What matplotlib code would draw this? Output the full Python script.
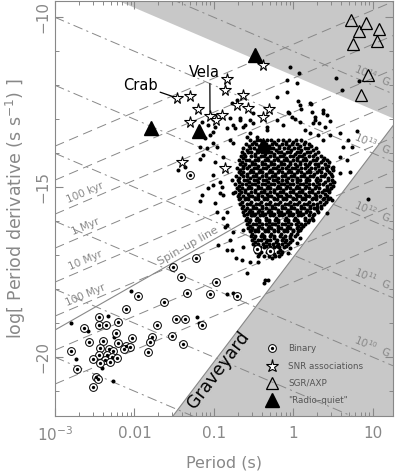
import numpy as np
import matplotlib.pyplot as plt
from matplotlib.lines import Line2D

plt.rcParams['lines.scale_dashes'] = False
plt.rcParams['font.family'] = ['DejaVu Sans']

grey = '#888888'
shade = '#c8c8c8'

# log10 P [s], log10 Pdot [s/s]
# isolated pulsars outside the black core
normal_logp = [
    -0.04, 0.07, 0.54, 0.82, 0.61, -0.08, 0.04, -0.08, -0.21, 0.06,
    0.22, 0.09, 0.23, 0.37, -0.06, -0.02, 0.27, 0.42, 0.32, 0.46,
    0.25, 0.08, 0.02, 0.80, 0.59, 0.69, 0.46, 0.37, 0.21, 0.15,
    0.31, -0.77, -0.71, -1.15, -1.08, -0.99, -1.05, -1.11, -1.01, -1.18,
    -0.96, -0.84, -0.74, -0.67, -0.61, -0.55, -0.80, -0.51, -0.46, -0.33,
    -0.59, -0.80, -1.18, -1.45, -1.37, -1.01, -1.09, -1.14, -0.99, -0.89,
    -0.76, -1.01, -0.77, -0.93, -1.08, -0.93, -0.76, -1.15, 0.62, 0.74,
    0.59, 0.67, 0.50, 0.71, 0.59, 0.50, 0.42, 0.48, 0.30, 0.42,
    0.25, 0.94, 0.04, -0.04, -0.07, 0.08, -0.36, -0.32, -0.89, -0.99,
    -0.96, -0.89, -0.84, -0.76, -0.80, -0.95, -0.77, -0.64, -1.01, -0.90,
    -1.18, -0.84, -0.86, -0.64, -0.84, -0.72, -0.65, -0.55, -0.59, -0.45,
    -0.27, -0.84, -0.37, -2.04, -2.33, -2.80, -2.59, -2.26, -2.74, -2.27,
    -2.41, -1.21, -1.19, -0.07, 0.08, 0.21, -0.13, -0.21, -0.51, -0.64,
    -0.76, -0.55, -0.33, 0.27, 0.37, 0.40, -0.67, -0.76]
normal_logpdot = [
    -11.47, -11.65, -11.79, -11.88, -12.15, -11.85, -11.94, -12.21, -12.35, -12.47,
    -12.56, -12.71, -12.79, -12.74, -12.82, -12.94, -12.94, -12.88, -13.12, -13.06,
    -13.12, -13.09, -13.00, -13.35, -13.41, -13.62, -13.47, -13.62, -13.41, -13.32,
    -13.47, -12.53, -12.44, -13.09, -13.18, -13.24, -13.47, -13.56, -13.71, -13.82,
    -13.82, -13.26, -13.26, -13.03, -13.18, -13.03, -12.97, -12.82, -13.53, -13.24,
    -13.53, -13.62, -14.18, -14.50, -14.41, -13.38, -13.85, -14.06, -14.26, -14.12,
    -13.71, -14.65, -14.79, -14.85, -15.03, -15.18, -15.18, -15.24, -13.82, -13.82,
    -14.12, -14.21, -14.41, -14.56, -14.59, -14.85, -15.09, -15.38, -15.59, -15.76,
    -15.97, -15.35, -16.65, -16.79, -16.94, -16.50, -17.74, -17.74, -15.24, -15.47,
    -15.74, -15.91, -16.12, -16.32, -16.56, -16.71, -16.85, -16.76, -14.94, -15.00,
    -15.41, -15.74, -16.18, -16.26, -16.85, -17.09, -17.15, -17.21, -17.53, -17.21,
    -17.09, -18.15, -17.82, -18.06, -18.79, -19.00, -19.24, -19.41, -20.06, -20.71,
    -20.32, -18.82, -19.00, -12.79, -12.59, -12.53, -13.18, -13.03, -13.12, -13.24,
    -13.18, -13.41, -13.32, -13.03, -12.82, -13.24, -12.97, -18.12]

# the dense core, row by row: (log Pdot, [log P ...])
core_rows = [
    (-13.63, [-0.55, -0.46, -0.42, -0.33, -0.28, -0.19, -0.13, -0.06, 0.03, 0.09]),
    (-13.68, [-0.50, -0.37, -0.24, -0.10, 0.00, 0.15]),
    (-13.73, [-0.60, -0.52, -0.47, -0.39, -0.35, -0.27, -0.22, -0.15, -0.10, -0.02, 0.04, 0.13, 0.19]),
    (-13.80, [-0.56, -0.43, -0.31, -0.18, -0.06, 0.08, 0.22]),
    (-13.86, [-0.63, -0.55, -0.50, -0.42, -0.37, -0.30, -0.26, -0.18, -0.12, -0.07, 0.01, 0.06, 0.14, 0.18, 0.28]),
    (-13.91, [-0.59, -0.46, -0.34, -0.22, -0.03, 0.10, 0.24]),
    (-13.96, [-0.65, -0.57, -0.53, -0.45, -0.40, -0.32, -0.28, -0.20, -0.16, -0.08, -0.04, 0.04, 0.08, 0.17, 0.21, 0.31]),
    (-14.03, [-0.62, -0.49, -0.36, -0.24, -0.12, 0.02, 0.13, 0.27]),
    (-14.10, [-0.66, -0.61, -0.53, -0.49, -0.41, -0.37, -0.29, -0.25, -0.17, -0.13, -0.05, 0.00, 0.07, 0.11, 0.19, 0.24, 0.34]),
    (-14.15, [-0.64, -0.45, -0.33, -0.21, -0.09, 0.04, 0.15, 0.29, 0.38]),
    (-14.20, [-0.69, -0.60, -0.56, -0.48, -0.44, -0.36, -0.32, -0.24, -0.20, -0.12, -0.08, 0.00, 0.04, 0.12, 0.16, 0.24, 0.28, 0.37, 0.42]),
    (-14.27, [-0.65, -0.52, -0.40, -0.28, -0.16, -0.04, 0.08, 0.21, 0.34, 0.45]),
    (-14.33, [-0.67, -0.61, -0.52, -0.48, -0.40, -0.36, -0.28, -0.24, -0.16, -0.12, -0.04, 0.02, 0.08, 0.14, 0.19, 0.27, 0.31, 0.40]),
    (-14.38, [-0.64, -0.56, -0.44, -0.32, -0.20, -0.07, 0.05, 0.17, 0.31, 0.44]),
    (-14.43, [-0.71, -0.63, -0.58, -0.50, -0.46, -0.38, -0.34, -0.26, -0.22, -0.14, -0.10, -0.02, 0.02, 0.10, 0.14, 0.22, 0.27, 0.36, 0.41, 0.48]),
    (-14.50, [-0.67, -0.54, -0.42, -0.30, -0.18, -0.06, 0.06, 0.19, 0.32, 0.42, 0.50]),
    (-14.57, [-0.69, -0.63, -0.55, -0.51, -0.43, -0.39, -0.31, -0.27, -0.19, -0.15, -0.07, -0.03, 0.05, 0.09, 0.17, 0.21, 0.30, 0.35, 0.45]),
    (-14.62, [-0.66, -0.59, -0.47, -0.35, -0.23, -0.11, 0.01, 0.13, 0.26, 0.40, 0.47]),
    (-14.67, [-0.72, -0.64, -0.59, -0.51, -0.47, -0.39, -0.35, -0.27, -0.23, -0.15, -0.11, -0.03, 0.01, 0.09, 0.13, 0.21, 0.25, 0.34, 0.39, 0.49]),
    (-14.73, [-0.68, -0.55, -0.43, -0.31, -0.19, -0.07, 0.05, 0.17, 0.29, 0.44]),
    (-14.80, [-0.70, -0.62, -0.58, -0.50, -0.46, -0.38, -0.34, -0.26, -0.22, -0.14, -0.10, -0.02, 0.04, 0.08, 0.16, 0.20, 0.28, 0.33, 0.43, 0.48]),
    (-14.85, [-0.69, -0.56, -0.44, -0.32, -0.20, -0.08, 0.05, 0.16, 0.29, 0.40, 0.51]),
    (-14.90, [-0.73, -0.65, -0.60, -0.52, -0.48, -0.40, -0.36, -0.28, -0.24, -0.16, -0.12, -0.04, 0.00, 0.08, 0.12, 0.20, 0.24, 0.32, 0.37, 0.46]),
    (-14.97, [-0.68, -0.56, -0.44, -0.32, -0.20, -0.08, 0.04, 0.16, 0.28, 0.42, 0.50]),
    (-15.04, [-0.71, -0.65, -0.57, -0.53, -0.45, -0.41, -0.33, -0.29, -0.21, -0.17, -0.09, -0.05, 0.03, 0.07, 0.15, 0.19, 0.27, 0.32, 0.42, 0.47]),
    (-15.09, [-0.69, -0.61, -0.49, -0.37, -0.25, -0.13, -0.01, 0.11, 0.23, 0.38, 0.45]),
    (-15.14, [-0.73, -0.66, -0.61, -0.53, -0.49, -0.41, -0.37, -0.29, -0.25, -0.17, -0.13, -0.05, -0.01, 0.07, 0.11, 0.19, 0.23, 0.31, 0.36, 0.45]),
    (-15.20, [-0.69, -0.57, -0.45, -0.33, -0.21, -0.09, 0.03, 0.15, 0.27, 0.40]),
    (-15.27, [-0.70, -0.64, -0.56, -0.52, -0.44, -0.40, -0.32, -0.28, -0.20, -0.16, -0.08, -0.04, 0.04, 0.08, 0.16, 0.20, 0.28, 0.33, 0.42]),
    (-15.32, [-0.67, -0.60, -0.48, -0.36, -0.24, -0.12, 0.00, 0.12, 0.24, 0.38, 0.46]),
    (-15.37, [-0.69, -0.61, -0.57, -0.49, -0.45, -0.37, -0.33, -0.25, -0.21, -0.13, -0.09, -0.01, 0.03, 0.11, 0.15, 0.23, 0.28, 0.37, 0.43]),
    (-15.44, [-0.65, -0.53, -0.41, -0.29, -0.17, -0.05, 0.07, 0.19, 0.33, 0.41]),
    (-15.51, [-0.67, -0.59, -0.55, -0.47, -0.43, -0.35, -0.31, -0.23, -0.19, -0.11, -0.07, 0.01, 0.05, 0.13, 0.17, 0.25, 0.30, 0.39]),
    (-15.56, [-0.63, -0.51, -0.39, -0.27, -0.15, -0.03, 0.09, 0.21, 0.35]),
    (-15.61, [-0.65, -0.59, -0.51, -0.47, -0.39, -0.35, -0.27, -0.23, -0.15, -0.11, -0.03, 0.01, 0.09, 0.13, 0.21, 0.26, 0.34]),
    (-15.68, [-0.61, -0.55, -0.43, -0.31, -0.19, -0.07, 0.05, 0.17, 0.30]),
    (-15.75, [-0.63, -0.56, -0.52, -0.44, -0.40, -0.32, -0.28, -0.20, -0.16, -0.08, -0.04, 0.04, 0.08, 0.16, 0.21, 0.31]),
    (-15.80, [-0.59, -0.48, -0.36, -0.24, -0.12, 0.00, 0.12, 0.26]),
    (-15.84, [-0.62, -0.54, -0.50, -0.42, -0.38, -0.30, -0.26, -0.18, -0.14, -0.06, -0.02, 0.06, 0.10, 0.19, 0.25]),
    (-15.91, [-0.58, -0.46, -0.34, -0.22, -0.10, 0.02, 0.15, 0.23]),
    (-15.98, [-0.60, -0.55, -0.47, -0.43, -0.35, -0.31, -0.23, -0.19, -0.11, -0.07, 0.01, 0.05, 0.14, 0.20]),
    (-16.03, [-0.56, -0.43, -0.31, -0.19, -0.07, 0.06, 0.18]),
    (-16.08, [-0.58, -0.51, -0.47, -0.39, -0.35, -0.27, -0.23, -0.15, -0.11, -0.03, 0.03, 0.09, 0.15]),
    (-16.15, [-0.55, -0.43, -0.31, -0.19, -0.07, 0.06, 0.12]),
    (-16.22, [-0.57, -0.52, -0.44, -0.40, -0.32, -0.28, -0.20, -0.16, -0.08, -0.04, 0.04, 0.10]),
    (-16.27, [-0.54, -0.48, -0.36, -0.24, -0.12, 0.00, 0.08]),
    (-16.31, [-0.55, -0.48, -0.44, -0.36, -0.32, -0.24, -0.20, -0.12, -0.08, 0.00, 0.06]),
    (-16.38, [-0.52, -0.40, -0.28, -0.16, -0.03, 0.04]),
    (-16.45, [-0.54, -0.49, -0.41, -0.37, -0.29, -0.25, -0.17, -0.11, -0.05, 0.02]),
    (-16.50, [-0.50, -0.37, -0.25, -0.13, -0.05]),
    (-16.55, [-0.52, -0.45, -0.41, -0.33, -0.29, -0.21, -0.15, -0.09, -0.02]),
    (-16.62, [-0.48, -0.35, -0.22, -0.11, -0.04]),
    (-16.69, [-0.51, -0.44, -0.38, -0.31, -0.26, -0.19, -0.14, -0.07]),
    (-16.74, [-0.47, -0.34, -0.21, -0.09]),
    (-16.78, [-0.49, -0.42, -0.37, -0.30, -0.24, -0.18, -0.12]),
    (-16.85, [-0.44, -0.31, -0.17]),
    (-16.92, [-0.47, -0.41, -0.33, -0.28, -0.20, -0.14]),
    (-16.97, [-0.43, -0.25, -0.16]),
    (-17.02, [-0.45, -0.37, -0.31, -0.23, -0.18]),
]

binary_logp = [
    -1.52, -1.42, -1.34, -1.96, -1.63, -2.11, -2.45, -2.45, -2.36, -2.21,
    -1.72, -1.48, -1.37, -2.64, -2.23, -1.78, -2.57, -2.40, -2.21, -2.03,
    -1.81, -1.53, -1.39, -2.43, -2.32, -2.27, -2.11, -2.06, -2.13, -2.80,
    -1.83, -2.45, -2.35, -2.28, -2.52, -2.37, -2.22, -2.43, -2.31, -2.72,
    -2.48, -2.46, -2.52, -1.23, -0.98, -1.05, -0.71, -1.15, -1.30, -0.46,
    -0.30]
binary_logpdot = [
    -17.35, -17.65, -18.12, -18.21, -18.38, -18.59, -18.82, -19.06, -19.06, -18.97,
    -19.06, -18.88, -18.88, -19.15, -19.29, -19.41, -19.56, -19.53, -19.59, -19.44,
    -19.56, -19.38, -19.62, -19.74, -19.76, -19.82, -19.68, -19.71, -19.76, -19.82,
    -19.85, -19.94, -19.94, -20.00, -20.06, -20.09, -20.03, -20.18, -20.15, -20.35,
    -20.59, -20.65, -20.88, -17.09, -17.79, -18.15, -18.21, -19.06, -14.65, -16.82,
    -16.88]

snr_logp = [-1.47, -1.30, -1.20, -1.30, -1.40, -0.84, -0.86, -0.64, -0.71,
            -0.57, -1.05, -0.90, -0.98, -0.38, -0.31, -0.38, -0.86]
snr_logpdot = [-12.38, -12.32, -12.71, -13.09, -14.26, -11.82, -12.15, -12.29, -12.59,
               -12.68, -12.91, -12.88, -13.03, -11.41, -12.71, -12.94, -14.44]

sgr_logp = [0.72, 0.91, 0.82, 1.08, 0.75, 1.05, 0.94, 0.85]
sgr_logpdot = [-10.09, -10.18, -10.41, -10.35, -10.79, -10.71, -11.71, -12.29]

quiet_logp = [-0.48, -1.79, -1.19, -0.38]
quiet_logpdot = [-11.12, -13.26, -13.35, -13.76]

crab = (-1.47, -12.38)
vela = (-1.05, -12.91)

# reference lines
b_exps = [8, 9, 10, 11, 12, 13, 14]
b_labelled = [10, 11, 12, 13, 14]
b_crit = 4.414e13
age_exps = [3, 4, 5, 6, 7, 8, 9, 10]
age_names = {5: '100 kyr', 6: '1 Myr', 7: '10 Myr', 8: '100 Myr'}
death_logp = [-1.516, 1.252]
death_logpdot = [-21.74, -13.2]
yr = 3.156e7

fig = plt.figure(figsize=(3.98, 4.76), dpi=100)
ax = fig.add_axes([55 / 398, 60 / 476, 338 / 398, 415 / 476])
ax.set_xscale('log')
lpmin, lpmax = -3.0, 1.252
ymin, ymax = -21.74, -9.53
ax.set_xlim(10 ** lpmin, 10 ** lpmax)
ax.set_ylim(ymin, ymax)

lp = np.array([lpmin, lpmax])

# shaded: above the critical field, and the graveyard
top = 2 * np.log10(b_crit / 3.2e19) - lp
ax.fill_between(10 ** lp, top, ymax, color=shade, lw=0, zorder=0)
ax.fill(10 ** np.array([death_logp[0], death_logp[1], lpmax]),
        [death_logpdot[0], death_logpdot[1], ymin], color=shade, lw=0, zorder=0)
ax.plot(10 ** np.array(death_logp), death_logpdot, color=grey, lw=0.8, zorder=1)

for b in b_exps:
    ax.plot(10 ** lp, 2 * (b - np.log10(3.2e19)) - lp, color=grey, lw=0.7,
            dashes=(7, 3, 1.5, 3), zorder=1)
for b in b_labelled:
    x0 = 0.99
    y0 = 2 * (b - np.log10(3.2e19)) - x0 + 0.3
    ax.text(10 ** x0, y0, '10$^{%d}$  G' % b, color=grey, fontsize=7.5,
            rotation=-23, ha='center', va='center', zorder=2)

for k in age_exps:
    ax.plot(10 ** lp, lp - np.log10(2 * yr * 10 ** k), color=grey, lw=0.7,
            dashes=(7, 4), zorder=1)
for k, name in age_names.items():
    x0 = -2.62
    y0 = x0 - np.log10(2 * yr * 10 ** k) + 0.25
    ax.text(10 ** x0, y0, name, color=grey, fontsize=7.5, rotation=23,
            ha='center', va='center', zorder=2)

su = np.array([-3.0, -0.3])
ax.plot(10 ** su, 4 / 3 * su - 15.21, color=grey, lw=0.8, zorder=1)
ax.text(10 ** -1.32, 4 / 3 * -1.32 - 15.21 + 0.22, 'Spin\u2013up line', color=grey,
        fontsize=8, rotation=29.5, ha='center', va='center', zorder=2)

ax.text(10 ** -0.95, -20.38, 'Graveyard', fontsize=12.5, rotation=53,
        ha='center', va='center', zorder=2)

# pulsars
core_p = [p for row in core_rows for p in row[1]]
core_pd = [row[0] for row in core_rows for p in row[1]]
ax.plot(10 ** np.array(normal_logp + core_p), normal_logpdot + core_pd, 'o',
        color='black', ms=2.9, mew=0, zorder=3)
ax.plot(10 ** np.array(binary_logp), binary_logpdot, 'o', mfc='white',
        mec='black', ms=5.6, mew=0.7, zorder=3)
ax.plot(10 ** np.array(binary_logp), binary_logpdot, 'o', color='black',
        ms=2.4, mew=0, zorder=4)
ax.plot(10 ** np.array(snr_logp), snr_logpdot, '*', mfc='white', mec='black',
        ms=8.5, mew=0.8, zorder=4)
ax.plot(10 ** np.array(sgr_logp), sgr_logpdot, '^', mfc='none', mec='black',
        ms=9, mew=0.9, zorder=4)
ax.plot(10 ** np.array(quiet_logp), quiet_logpdot, '^', color='black', ms=10,
        zorder=4)

ax.annotate('Crab', xy=(10 ** crab[0], crab[1]), xytext=(10 ** -1.93, -12.03),
            fontsize=10.5, ha='center', va='center', zorder=5,
            arrowprops=dict(arrowstyle='-', color='black', lw=0.9,
                            relpos=(1.0, 0.15), shrinkA=0, shrinkB=4))
ax.annotate('Vela', xy=(10 ** vela[0], vela[1]), xytext=(10 ** -1.126, -11.62),
            fontsize=10.5, ha='center', va='center', zorder=5,
            arrowprops=dict(arrowstyle='-', color='black', lw=0.9,
                            relpos=(0.69, 0.0), shrinkA=1, shrinkB=3))

handles = [
    (Line2D([], [], ls='', marker='o', mfc='white', mec='black', ms=5.6, mew=0.7),
     Line2D([], [], ls='', marker='o', color='black', ms=2.4, mew=0)),
    Line2D([], [], ls='', marker='*', mfc='white', mec='black', ms=9.5, mew=0.8),
    Line2D([], [], ls='', marker='^', mfc='none', mec='black', ms=9, mew=0.9),
    Line2D([], [], ls='', marker='^', color='black', ms=10),
]
labels = ['Binary', 'SNR associations', 'SGR/AXP', '"Radio\u2013quiet"']
leg = ax.legend(handles, labels, loc='lower left', bbox_to_anchor=(0.627, 0.026),
                frameon=False, fontsize=6.3, handlelength=1.2, handletextpad=1.2,
                labelspacing=0.95, borderpad=0, borderaxespad=0)
for t in leg.get_texts():
    t.set_color('#555555')

# axes styling
for s in ax.spines.values():
    s.set_color(grey)
ax.set_xticks([1e-3, 1e-2, 1e-1, 1, 10])
ax.set_xticklabels(['10$^{-3}$', '0.01', '0.1', '1', '10'])
ax.set_yticks([-20, -15, -10])
ax.set_yticklabels(['\u221220', '\u221215', '\u221210'], rotation=90, va='center')
ax.set_yticks(np.arange(-21, -9), minor=True)
ax.tick_params(which='both', direction='in', top=True, right=True, colors=grey,
               labelcolor=grey, labelsize=11)
ax.tick_params(which='major', length=6, width=0.8)
ax.tick_params(which='minor', length=3, width=0.7)
ax.tick_params(axis='x', pad=7)
ax.set_xlabel('Period (s)', color=grey, fontsize=11.5, labelpad=8)
ax.set_ylabel('log[ Period derivative (s s$^{-1}$) ]', color=grey, fontsize=12.5,
              labelpad=5)

fig.savefig('out.png', dpi=100)
